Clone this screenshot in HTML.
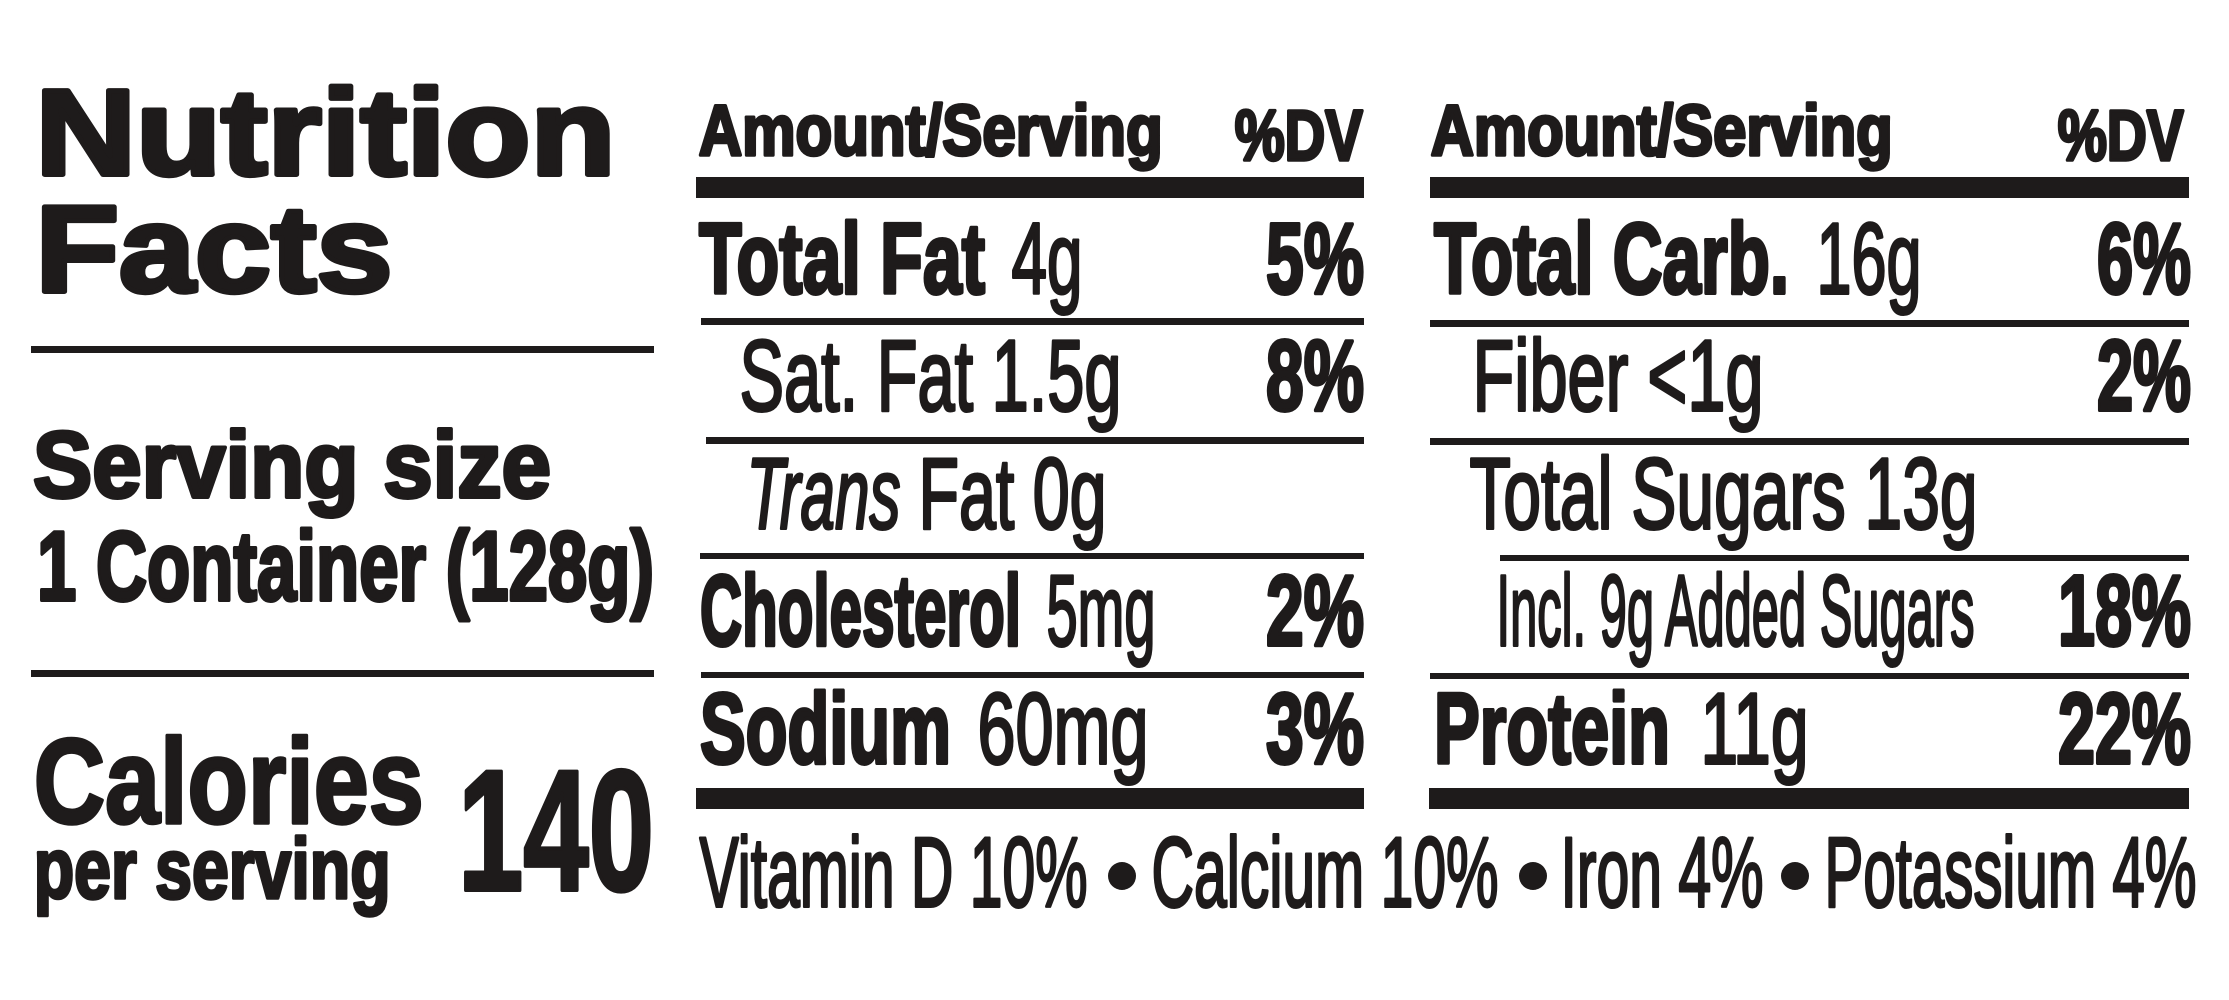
<!DOCTYPE html>
<html>
<head>
<meta charset="utf-8">
<style>
html,body{margin:0;padding:0;background:#fff;width:2229px;height:1000px;overflow:hidden}
svg{display:block}
svg text{font-family:"Liberation Sans",Arial,sans-serif;fill:#1e1b1b;stroke:#1e1b1b;stroke-linejoin:round}
.b{font-weight:700;stroke-width:4}
.r{font-weight:400;stroke-width:3}
.i{font-weight:400;font-style:italic;stroke-width:3}
.h{font-weight:700;stroke-width:5}
.c{font-weight:700;stroke-width:3.5}
</style>
</head>
<body>
<svg width="2229" height="1000" viewBox="0 0 2229 1000" xmlns="http://www.w3.org/2000/svg">
<rect x="0" y="0" width="2229" height="1000" fill="#fff"/>

<!-- Left panel -->
<text class="h" x="35.5" y="174.5" font-size="122" textLength="580" lengthAdjust="spacingAndGlyphs">Nutrition</text>
<text class="h" x="35.5" y="291.5" font-size="123" textLength="357" lengthAdjust="spacingAndGlyphs">Facts</text>
<rect x="31" y="346" width="623" height="7" fill="#1e1b1b"/>
<text class="b" x="33" y="497" font-size="94" textLength="518" lengthAdjust="spacingAndGlyphs">Serving size</text>
<text class="b" x="37" y="600" font-size="98" textLength="617" lengthAdjust="spacingAndGlyphs">1 Container (128g)</text>
<rect x="31" y="670" width="623" height="7" fill="#1e1b1b"/>
<text class="c" x="33.7" y="823.2" font-size="121" textLength="390" lengthAdjust="spacingAndGlyphs">Calories</text>
<text class="c" x="33.7" y="898.2" font-size="85" textLength="357" lengthAdjust="spacingAndGlyphs">per serving</text>
<text class="b" x="458" y="890" font-size="172" textLength="196" lengthAdjust="spacingAndGlyphs">140</text>

<!-- Middle column -->
<text class="c" x="698.7" y="155.2" font-size="71" textLength="464" lengthAdjust="spacingAndGlyphs">Amount/Serving</text>
<text class="c" x="1234.7" y="160.2" font-size="71" textLength="128" lengthAdjust="spacingAndGlyphs">%DV</text>
<rect x="696" y="177" width="668" height="21" fill="#1e1b1b"/>

<text class="b" x="699" y="293" font-size="100" textLength="286" lengthAdjust="spacingAndGlyphs">Total Fat</text>
<text class="r" x="1011.5" y="293.5" font-size="101" textLength="71" lengthAdjust="spacingAndGlyphs">4g</text>
<text class="b" x="1266" y="293" font-size="100" textLength="98" lengthAdjust="spacingAndGlyphs">5%</text>
<rect x="701" y="318" width="663" height="7" fill="#1e1b1b"/>

<text class="r" x="739.5" y="410.5" font-size="101" textLength="382" lengthAdjust="spacingAndGlyphs">Sat. Fat 1.5g</text>
<text class="b" x="1266" y="410" font-size="100" textLength="98" lengthAdjust="spacingAndGlyphs">8%</text>
<rect x="706" y="437" width="658" height="7" fill="#1e1b1b"/>

<text class="i" x="746.5" y="528.5" font-size="101" textLength="154" lengthAdjust="spacingAndGlyphs">Trans</text>
<text class="r" x="918.5" y="528.5" font-size="101" textLength="188" lengthAdjust="spacingAndGlyphs">Fat 0g</text>
<rect x="700" y="553" width="664" height="6" fill="#1e1b1b"/>

<text class="b" x="700" y="645" font-size="100" textLength="321" lengthAdjust="spacingAndGlyphs">Cholesterol</text>
<text class="r" x="1046.5" y="645.5" font-size="101" textLength="109" lengthAdjust="spacingAndGlyphs">5mg</text>
<text class="b" x="1266" y="645" font-size="100" textLength="98" lengthAdjust="spacingAndGlyphs">2%</text>
<rect x="701" y="672" width="663" height="6" fill="#1e1b1b"/>

<text class="b" x="700" y="763" font-size="100" textLength="251" lengthAdjust="spacingAndGlyphs">Sodium</text>
<text class="r" x="977.5" y="763.5" font-size="101" textLength="171" lengthAdjust="spacingAndGlyphs">60mg</text>
<text class="b" x="1266" y="763" font-size="100" textLength="98" lengthAdjust="spacingAndGlyphs">3%</text>
<rect x="696" y="788" width="668" height="21" fill="#1e1b1b"/>

<!-- Right column -->
<text class="c" x="1430.7" y="155.2" font-size="71" textLength="462" lengthAdjust="spacingAndGlyphs">Amount/Serving</text>
<text class="c" x="2057.7" y="160.2" font-size="71" textLength="126" lengthAdjust="spacingAndGlyphs">%DV</text>
<rect x="1430" y="177" width="759" height="21" fill="#1e1b1b"/>

<text class="b" x="1434" y="293" font-size="100" textLength="355" lengthAdjust="spacingAndGlyphs">Total Carb.</text>
<text class="r" x="1816.5" y="293.5" font-size="101" textLength="105" lengthAdjust="spacingAndGlyphs">16g</text>
<text class="b" x="2097" y="293" font-size="100" textLength="94" lengthAdjust="spacingAndGlyphs">6%</text>
<rect x="1430" y="320" width="759" height="7" fill="#1e1b1b"/>

<text class="r" x="1472.5" y="410.5" font-size="101" textLength="291" lengthAdjust="spacingAndGlyphs">Fiber &lt;1g</text>
<text class="b" x="2097" y="410" font-size="100" textLength="94" lengthAdjust="spacingAndGlyphs">2%</text>
<rect x="1430" y="438" width="759" height="7" fill="#1e1b1b"/>

<text class="r" x="1469.5" y="528.5" font-size="101" textLength="508" lengthAdjust="spacingAndGlyphs">Total Sugars 13g</text>
<rect x="1500" y="555" width="689" height="6" fill="#1e1b1b"/>

<text class="r" x="1496.5" y="645.5" font-size="101" textLength="478" lengthAdjust="spacingAndGlyphs">Incl. 9g Added Sugars</text>
<text class="b" x="2058" y="645" font-size="100" textLength="133" lengthAdjust="spacingAndGlyphs">18%</text>
<rect x="1430" y="673" width="759" height="6" fill="#1e1b1b"/>

<text class="b" x="1434" y="763" font-size="100" textLength="236" lengthAdjust="spacingAndGlyphs">Protein</text>
<text class="r" x="1700.5" y="763.5" font-size="101" textLength="108" lengthAdjust="spacingAndGlyphs">11g</text>
<text class="b" x="2058" y="763" font-size="100" textLength="133" lengthAdjust="spacingAndGlyphs">22%</text>
<rect x="1429" y="788" width="760" height="21" fill="#1e1b1b"/>

<!-- Vitamins line -->
<text class="r" x="699.5" y="906.5" font-size="99" textLength="388" lengthAdjust="spacingAndGlyphs">Vitamin D 10%</text>
<circle cx="1122" cy="876" r="14" fill="#1e1b1b"/>
<text class="r" x="1151.5" y="906.5" font-size="99" textLength="347" lengthAdjust="spacingAndGlyphs">Calcium 10%</text>
<circle cx="1533" cy="876" r="14" fill="#1e1b1b"/>
<text class="r" x="1560.5" y="906.5" font-size="99" textLength="203" lengthAdjust="spacingAndGlyphs">Iron 4%</text>
<circle cx="1795" cy="876" r="14" fill="#1e1b1b"/>
<text class="r" x="1824.5" y="906.5" font-size="99" textLength="372" lengthAdjust="spacingAndGlyphs">Potassium 4%</text>
</svg>
</body>
</html>
